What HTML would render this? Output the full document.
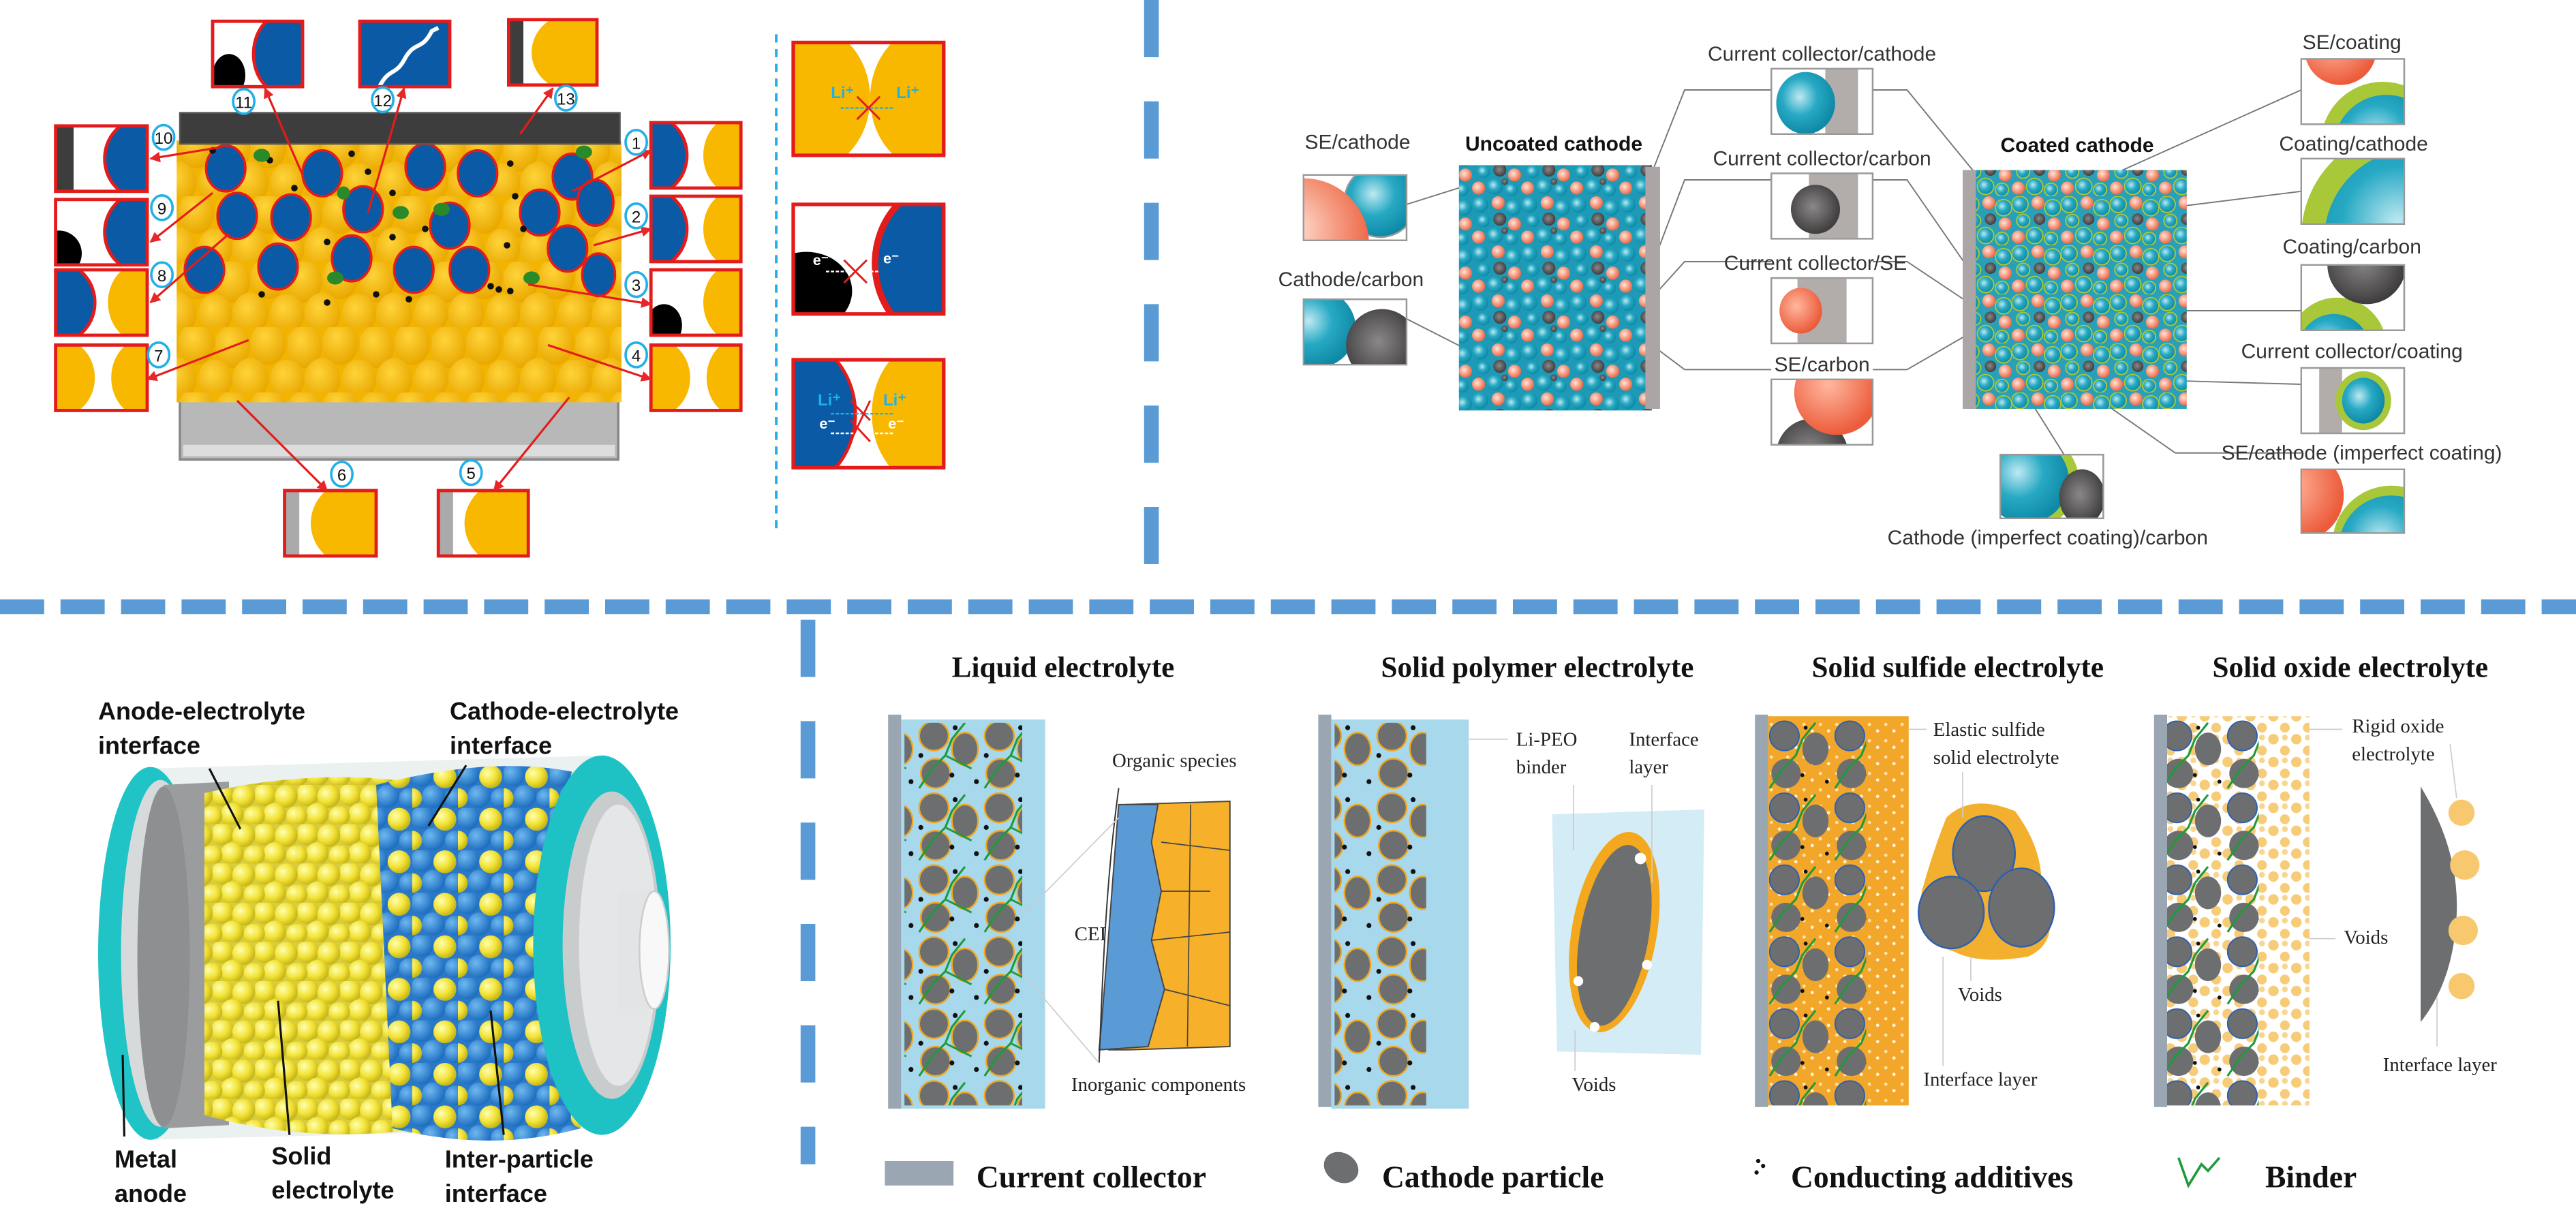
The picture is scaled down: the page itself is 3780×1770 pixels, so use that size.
<!DOCTYPE html>
<html><head><meta charset="utf-8"><style>
html,body{margin:0;padding:0;background:#fff;}
svg{display:block;}
</style></head><body>
<svg width="3780" height="1770" viewBox="0 0 1575 737.5" xmlns="http://www.w3.org/2000/svg">
<defs>
<radialGradient id="gTeal" cx="0.4" cy="0.4" r="0.6"><stop offset="0" stop-color="#bfe9f2"/><stop offset="0.5" stop-color="#27a9c4"/><stop offset="1" stop-color="#0f8aa6"/></radialGradient>
<radialGradient id="gSal" cx="0.4" cy="0.4" r="0.6"><stop offset="0" stop-color="#ffe6dc"/><stop offset="0.6" stop-color="#f59a80"/><stop offset="1" stop-color="#ee6a4a"/></radialGradient>
<radialGradient id="gRed" cx="0.4" cy="0.4" r="0.6"><stop offset="0" stop-color="#ffb8a0"/><stop offset="1" stop-color="#ec5b3a"/></radialGradient>
<radialGradient id="gDark" cx="0.45" cy="0.45" r="0.6"><stop offset="0" stop-color="#8a8888"/><stop offset="1" stop-color="#383636"/></radialGradient>
<radialGradient id="gYel" cx="0.35" cy="0.35" r="0.65"><stop offset="0" stop-color="#ffffb0"/><stop offset="0.6" stop-color="#f2e236"/><stop offset="1" stop-color="#c8b818"/></radialGradient>
<radialGradient id="gBlu" cx="0.35" cy="0.35" r="0.65"><stop offset="0" stop-color="#6fb8f0"/><stop offset="1" stop-color="#1f6fc0"/></radialGradient>
<radialGradient id="gOr" cx="0.4" cy="0.35" r="0.65"><stop offset="0" stop-color="#ffd43a"/><stop offset="1" stop-color="#e9a800"/></radialGradient>
<pattern id="pUn" width="30" height="30" patternUnits="userSpaceOnUse">
<rect width="30" height="30" fill="#1e9ab6"/>
<circle cx="5" cy="5" r="5" fill="url(#gTeal)"/><circle cx="16" cy="4" r="4" fill="url(#gSal)"/><circle cx="25" cy="7" r="5" fill="url(#gTeal)"/>
<circle cx="7" cy="15" r="4" fill="url(#gTeal)"/><circle cx="17" cy="14" r="4" fill="url(#gDark)"/><circle cx="26" cy="17" r="4" fill="url(#gSal)"/>
<circle cx="4" cy="25" r="4" fill="url(#gSal)"/><circle cx="14" cy="24" r="5" fill="url(#gTeal)"/><circle cx="24" cy="26" r="4" fill="url(#gTeal)"/><circle cx="20" cy="21" r="2" fill="url(#gDark)"/>
</pattern>
<pattern id="pCo" width="30" height="30" patternUnits="userSpaceOnUse">
<rect width="30" height="30" fill="#2aa0b8"/>
<g stroke="#a8c83a" stroke-width="0.8">
<circle cx="5" cy="5" r="5" fill="url(#gTeal)"/><circle cx="16" cy="4" r="4" fill="url(#gSal)" stroke="none"/><circle cx="25" cy="7" r="5" fill="url(#gTeal)"/>
<circle cx="7" cy="15" r="4" fill="url(#gTeal)"/><circle cx="17" cy="14" r="3.5" fill="url(#gDark)" stroke="none"/><circle cx="26" cy="17" r="4" fill="url(#gSal)" stroke="none"/>
<circle cx="4" cy="25" r="4" fill="url(#gSal)" stroke="none"/><circle cx="14" cy="24" r="5" fill="url(#gTeal)"/><circle cx="24" cy="26" r="4" fill="url(#gTeal)"/></g>
</pattern>
<pattern id="pYP" width="26" height="24" patternUnits="userSpaceOnUse">
<rect width="26" height="24" fill="#d8cc40"/>
<circle cx="6" cy="6" r="7" fill="url(#gYel)"/><circle cx="19" cy="7" r="7" fill="url(#gYel)"/><circle cx="12" cy="18" r="7" fill="url(#gYel)"/><circle cx="25" cy="19" r="6" fill="url(#gYel)"/><circle cx="0" cy="19" r="6" fill="url(#gYel)"/>
</pattern>
<pattern id="pBP" width="28" height="26" patternUnits="userSpaceOnUse">
<rect width="28" height="26" fill="#2a78c8"/>
<circle cx="6" cy="6" r="7" fill="url(#gBlu)"/><circle cx="20" cy="7" r="7" fill="url(#gYel)"/><circle cx="13" cy="19" r="7" fill="url(#gBlu)"/><circle cx="26" cy="20" r="6" fill="url(#gBlu)"/><circle cx="0" cy="20" r="6" fill="url(#gYel)"/>
</pattern>
<pattern id="pOrP" width="44" height="40" patternUnits="userSpaceOnUse">
<rect width="44" height="40" fill="#f3b400"/>
<ellipse cx="10" cy="12" rx="11" ry="13" fill="url(#gOr)"/><ellipse cx="32" cy="10" rx="11" ry="13" fill="url(#gOr)"/><ellipse cx="21" cy="32" rx="11" ry="13" fill="url(#gOr)"/><ellipse cx="43" cy="32" rx="10" ry="12" fill="url(#gOr)"/><ellipse cx="0" cy="32" rx="10" ry="12" fill="url(#gOr)"/>
</pattern>
<pattern id="pGP" width="40" height="44" patternUnits="userSpaceOnUse">
<ellipse cx="11" cy="10" rx="9" ry="9" fill="#6d6e70" stroke="#f0a820" stroke-width="1"/>
<ellipse cx="30" cy="18" rx="8" ry="10" fill="#6d6e70" stroke="#f0a820" stroke-width="1"/>
<ellipse cx="12" cy="33" rx="9" ry="9" fill="#6d6e70" stroke="#f0a820" stroke-width="1"/>
<circle cx="24" cy="5" r="1.5" fill="#111"/><circle cx="22" cy="34" r="1.5" fill="#111"/><circle cx="37" cy="38" r="1.5" fill="#111"/><circle cx="3" cy="22" r="1.5" fill="#111"/>
<path d="M2 42 L10 30 L18 22 L22 12 L30 2" stroke="#1f9a3a" stroke-width="1.3" fill="none"/>
<path d="M18 22 L34 30" stroke="#1f9a3a" stroke-width="1.2" fill="none"/>
</pattern>
<pattern id="pGPnb" width="40" height="44" patternUnits="userSpaceOnUse">
<ellipse cx="11" cy="10" rx="9" ry="9" fill="#6d6e70" stroke="#f0a820" stroke-width="1"/>
<ellipse cx="30" cy="18" rx="8" ry="10" fill="#6d6e70" stroke="#f0a820" stroke-width="1"/>
<ellipse cx="12" cy="33" rx="9" ry="9" fill="#6d6e70" stroke="#f0a820" stroke-width="1"/>
<circle cx="24" cy="5" r="1.5" fill="#111"/><circle cx="22" cy="34" r="1.5" fill="#111"/><circle cx="37" cy="38" r="1.5" fill="#111"/><circle cx="3" cy="22" r="1.5" fill="#111"/>
</pattern>
<pattern id="pGS" width="40" height="44" patternUnits="userSpaceOnUse">
<ellipse cx="11" cy="10" rx="9" ry="9" fill="#6d6e70" stroke="#2d5fb0" stroke-width="0.8"/>
<ellipse cx="30" cy="18" rx="8" ry="10" fill="#6d6e70"/>
<ellipse cx="12" cy="33" rx="9" ry="9" fill="#6d6e70"/>
<circle cx="24" cy="5" r="1.2" fill="#111"/><circle cx="22" cy="34" r="1.2" fill="#111"/><circle cx="37" cy="38" r="1.2" fill="#111"/>
<path d="M2 42 L10 30 L18 22 L22 12 L30 2" stroke="#1f9a3a" stroke-width="1.3" fill="none"/>
</pattern>
<pattern id="pSul" width="10" height="10" patternUnits="userSpaceOnUse">
<rect width="10" height="10" fill="#f2a72a"/><circle cx="3" cy="3" r="1" fill="#ffe2a8"/><circle cx="8" cy="7" r="1" fill="#fff2d8"/>
</pattern>
<pattern id="pOx" width="14" height="14" patternUnits="userSpaceOnUse">
<circle cx="4" cy="4" r="3.2" fill="#f7cc78"/><circle cx="11" cy="11" r="3" fill="#f7cc78"/><circle cx="11" cy="3" r="1.8" fill="#f9d690"/>
</pattern>
<marker id="ar" viewBox="0 0 10 10" refX="9" refY="5" markerWidth="5" markerHeight="5" orient="auto"><path d="M0 0 L10 5 L0 10z" fill="#e8262a"/></marker>
</defs>

<!-- dashed dividers -->
<line x1="704" y1="0" x2="704" y2="345" stroke="#5b9bd5" stroke-width="9" stroke-dasharray="35 27"/>
<line x1="0" y1="371" x2="1575" y2="371" stroke="#5b9bd5" stroke-width="9" stroke-dasharray="27 10"/>
<line x1="494" y1="379" x2="494" y2="712" stroke="#5b9bd5" stroke-width="9" stroke-dasharray="35 27"/>
<line x1="474.6" y1="21" x2="474.6" y2="325" stroke="#1fb0e8" stroke-width="1.6" stroke-dasharray="5 4"/>

<!-- ===== Top-left ===== -->
<rect x="110" y="240" width="268" height="41" fill="#b8b8b8" stroke="#888" stroke-width="1.5"/>
<rect x="112" y="272" width="264" height="7" fill="#ddd"/>
<rect x="108" y="86" width="272" height="160" fill="url(#pOrP)"/>
<g fill="#0a5aa6" stroke="#e31b1b" stroke-width="1.5">
<ellipse cx="138" cy="103" rx="12" ry="14"/><ellipse cx="197" cy="106" rx="12" ry="14"/><ellipse cx="260" cy="102" rx="12" ry="14"/><ellipse cx="292" cy="106" rx="12" ry="14"/><ellipse cx="350" cy="108" rx="12" ry="14"/>
<ellipse cx="145" cy="132" rx="12" ry="14"/><ellipse cx="178" cy="133" rx="12" ry="14"/><ellipse cx="222" cy="128" rx="12" ry="14"/><ellipse cx="275" cy="138" rx="12" ry="14"/><ellipse cx="330" cy="130" rx="12" ry="14"/><ellipse cx="364" cy="124" rx="11" ry="14"/>
<ellipse cx="125" cy="165" rx="12" ry="14"/><ellipse cx="170" cy="163" rx="12" ry="14"/><ellipse cx="215" cy="158" rx="12" ry="14"/><ellipse cx="253" cy="165" rx="12" ry="14"/><ellipse cx="287" cy="165" rx="12" ry="14"/><ellipse cx="347" cy="152" rx="12" ry="14"/><ellipse cx="366" cy="168" rx="10" ry="13"/>
</g>
<rect x="110" y="69" width="269" height="19" fill="#3d3d3d" stroke="#555"/>
<g fill="#111">
<circle cx="130" cy="92" r="2"/><circle cx="165" cy="98" r="2"/><circle cx="180" cy="115" r="2"/><circle cx="215" cy="94" r="2"/><circle cx="225" cy="105" r="2"/><circle cx="240" cy="118" r="2"/><circle cx="312" cy="100" r="2"/><circle cx="315" cy="120" r="2"/><circle cx="200" cy="148" r="2"/><circle cx="240" cy="145" r="2"/><circle cx="260" cy="140" r="2"/><circle cx="310" cy="150" r="2"/><circle cx="320" cy="140" r="2"/><circle cx="160" cy="180" r="2"/><circle cx="230" cy="180" r="2"/><circle cx="250" cy="183" r="2"/><circle cx="300" cy="175" r="2"/><circle cx="305" cy="177" r="2"/><circle cx="312" cy="178" r="2"/><circle cx="200" cy="185" r="2"/>
</g>
<g fill="#2a8a2a"><ellipse cx="160" cy="95" rx="5" ry="4"/><ellipse cx="245" cy="130" rx="5" ry="4"/><ellipse cx="270" cy="128" rx="5" ry="4"/><ellipse cx="205" cy="170" rx="5" ry="4"/><ellipse cx="357" cy="93" rx="5" ry="4"/><ellipse cx="325" cy="170" rx="5" ry="4"/><ellipse cx="210" cy="118" rx="4" ry="4"/></g>

<!-- zoom boxes (clipped) -->
<svg x="130" y="13" width="55" height="40"><rect width="55" height="40" fill="#fff"/><ellipse cx="43" cy="20" rx="18" ry="24" fill="#0a5aa6" stroke="#e31b1b" stroke-width="2"/><ellipse cx="10" cy="33" rx="10" ry="13" fill="#000"/></svg>
<svg x="220" y="13" width="55" height="40"><rect width="55" height="40" fill="#0a5aa6"/><path d="M12 40 C18 28 22 34 28 22 C34 12 38 18 44 6 L48 4" stroke="#fff" stroke-width="2.5" fill="none"/></svg>
<svg x="311" y="12" width="54" height="40"><rect width="54" height="40" fill="#fff"/><rect x="0" y="0" width="9" height="40" fill="#3d3d3d"/><ellipse cx="40" cy="20" rx="26" ry="24" fill="#f9b800"/></svg>

<svg x="34" y="77" width="56" height="40"><rect width="56" height="40" fill="#fff"/><rect width="11" height="40" fill="#3d3d3d"/><ellipse cx="52" cy="20" rx="22" ry="24" fill="#0a5aa6" stroke="#e31b1b" stroke-width="2"/></svg>
<svg x="34" y="122" width="56" height="40"><rect width="56" height="40" fill="#fff"/><ellipse cx="2" cy="33" rx="14" ry="14" fill="#000"/><ellipse cx="52" cy="20" rx="22" ry="24" fill="#0a5aa6" stroke="#e31b1b" stroke-width="2"/></svg>
<svg x="34" y="165" width="56" height="40"><rect width="56" height="40" fill="#fff"/><ellipse cx="2" cy="20" rx="22" ry="24" fill="#0a5aa6" stroke="#e31b1b" stroke-width="2"/><ellipse cx="52" cy="20" rx="20" ry="24" fill="#f9b800"/></svg>
<svg x="34" y="211" width="56" height="40"><rect width="56" height="40" fill="#fff"/><ellipse cx="2" cy="20" rx="22" ry="24" fill="#f9b800"/><ellipse cx="54" cy="20" rx="20" ry="24" fill="#f9b800"/></svg>

<svg x="398" y="75" width="55" height="40"><rect width="55" height="40" fill="#fff"/><ellipse cx="0" cy="20" rx="22" ry="24" fill="#0a5aa6" stroke="#e31b1b" stroke-width="2"/><ellipse cx="52" cy="20" rx="20" ry="24" fill="#f9b800"/></svg>
<svg x="398" y="120" width="55" height="40"><rect width="55" height="40" fill="#fff"/><ellipse cx="0" cy="20" rx="22" ry="24" fill="#0a5aa6" stroke="#e31b1b" stroke-width="2"/><ellipse cx="52" cy="20" rx="20" ry="24" fill="#f9b800"/></svg>
<svg x="398" y="165" width="55" height="40"><rect width="55" height="40" fill="#fff"/><ellipse cx="8" cy="34" rx="11" ry="13" fill="#000"/><ellipse cx="52" cy="20" rx="20" ry="24" fill="#f9b800"/></svg>
<svg x="398" y="211" width="55" height="40"><rect width="55" height="40" fill="#fff"/><ellipse cx="2" cy="20" rx="22" ry="24" fill="#f9b800"/><ellipse cx="54" cy="20" rx="20" ry="24" fill="#f9b800"/></svg>

<svg x="174" y="300" width="56" height="40"><rect width="56" height="40" fill="#fff"/><rect width="9" height="40" fill="#aaa"/><ellipse cx="42" cy="20" rx="26" ry="26" fill="#f9b800"/></svg>
<svg x="268" y="300" width="55" height="40"><rect width="55" height="40" fill="#fff"/><rect width="9" height="40" fill="#aaa"/><ellipse cx="42" cy="20" rx="26" ry="26" fill="#f9b800"/></svg>

<g fill="none" stroke="#e31b1b" stroke-width="2">
<rect x="130" y="13" width="55" height="40"/><rect x="220" y="13" width="55" height="40"/><rect x="311" y="12" width="54" height="40"/>
<rect x="34" y="77" width="56" height="40"/><rect x="34" y="122" width="56" height="40"/><rect x="34" y="165" width="56" height="40"/><rect x="34" y="211" width="56" height="40"/>
<rect x="398" y="75" width="55" height="40"/><rect x="398" y="120" width="55" height="40"/><rect x="398" y="165" width="55" height="40"/><rect x="398" y="211" width="55" height="40"/>
<rect x="174" y="300" width="56" height="40"/><rect x="268" y="300" width="55" height="40"/>
</g>
<!-- red leader lines -->
<g stroke="#e31b1b" stroke-width="1.3" marker-end="url(#ar)">
<line x1="185" y1="107" x2="162" y2="54"/><line x1="225" y1="130" x2="247" y2="54"/><line x1="318" y1="82" x2="338" y2="54"/>
<line x1="135" y1="90" x2="92" y2="97"/><line x1="130" y1="118" x2="92" y2="148"/><line x1="140" y1="143" x2="92" y2="185"/><line x1="152" y1="208" x2="90" y2="232"/>
<line x1="350" y1="117" x2="398" y2="92"/><line x1="363" y1="150" x2="398" y2="140"/><line x1="323" y1="174" x2="398" y2="186"/><line x1="335" y1="211" x2="398" y2="232"/>
<line x1="145" y1="245" x2="200" y2="300"/><line x1="348" y1="243" x2="302" y2="300"/>
</g>
<!-- numbers -->
<g font-family="Liberation Sans, sans-serif" font-size="10" text-anchor="middle" fill="#111">
<g fill="#fff" stroke="#22b0e8" stroke-width="1.5">
<ellipse cx="149" cy="62" rx="6.5" ry="7.5"/><ellipse cx="234" cy="61" rx="6.5" ry="7.5"/><ellipse cx="346" cy="60" rx="6.5" ry="7.5"/>
<ellipse cx="100" cy="84" rx="6.5" ry="7.5"/><ellipse cx="99" cy="127" rx="6.5" ry="7.5"/><ellipse cx="99" cy="168" rx="6.5" ry="7.5"/><ellipse cx="97" cy="217" rx="6.5" ry="7.5"/>
<ellipse cx="389" cy="87" rx="6.5" ry="7.5"/><ellipse cx="389" cy="132" rx="6.5" ry="7.5"/><ellipse cx="389" cy="174" rx="6.5" ry="7.5"/><ellipse cx="389" cy="217" rx="6.5" ry="7.5"/>
<ellipse cx="209" cy="290" rx="6.5" ry="7.5"/><ellipse cx="288" cy="289" rx="6.5" ry="7.5"/></g>
<text x="149" y="66">11</text><text x="234" y="65">12</text><text x="346" y="64">13</text>
<text x="100" y="88">10</text><text x="99" y="131">9</text><text x="99" y="172">8</text><text x="97" y="221">7</text>
<text x="389" y="91">1</text><text x="389" y="136">2</text><text x="389" y="178">3</text><text x="389" y="221">4</text>
<text x="209" y="294">6</text><text x="288" y="293">5</text>
</g>
<!-- right column boxes -->
<svg x="485" y="26" width="92" height="69"><rect width="92" height="69" fill="#fff"/><ellipse cx="10" cy="34" rx="37" ry="44" fill="#f9b800"/><ellipse cx="84" cy="34" rx="37" ry="44" fill="#f9b800"/></svg>
<svg x="485" y="125" width="92" height="67"><rect width="92" height="67" fill="#fff"/><ellipse cx="8" cy="53" rx="28" ry="24" fill="#000"/><ellipse cx="96" cy="36" rx="46" ry="50" fill="#0a5aa6" stroke="#e31b1b" stroke-width="4"/></svg>
<svg x="485" y="220" width="92" height="66"><rect width="92" height="66" fill="#fff"/><ellipse cx="-6" cy="33" rx="44" ry="48" fill="#0a5aa6" stroke="#e31b1b" stroke-width="2"/><ellipse cx="86" cy="33" rx="38" ry="46" fill="#f9b800"/></svg>
<g fill="none" stroke="#e31b1b" stroke-width="2.2"><rect x="485" y="26" width="92" height="69"/><rect x="485" y="125" width="92" height="67"/><rect x="485" y="220" width="92" height="66"/></g>
<g font-family="Liberation Sans, sans-serif" font-weight="bold" font-size="10" fill="#1fb0e8">
<text x="508" y="60">Li⁺</text><text x="548" y="60">Li⁺</text>
<text x="500" y="248">Li⁺</text><text x="540" y="248">Li⁺</text>
</g>
<g font-family="Liberation Sans, sans-serif" font-weight="bold" font-size="9" fill="#fff">
<text x="497" y="162">e⁻</text><text x="540" y="161">e⁻</text><text x="501" y="262">e⁻</text><text x="543" y="262">e⁻</text></g>
<g stroke="#1fb0e8" stroke-width="1" stroke-dasharray="2 1"><line x1="514" y1="66" x2="547" y2="66"/><line x1="508" y1="253" x2="546" y2="253"/></g>
<g stroke="#fff" stroke-width="1" stroke-dasharray="2 1"><line x1="505" y1="166" x2="538" y2="166"/><line x1="508" y1="265" x2="546" y2="265"/></g>
<g stroke="#e31b1b" stroke-width="1.2"><path d="M524 59 L538 73 M538 59 L524 73"/><path d="M516 159 L530 173 M530 159 L516 173"/><path d="M520 245 L532 257 M532 245 L520 270 M520 257 L532 270"/></g>

<!-- ===== Top-right ===== -->
<g fill="none" stroke="#777" stroke-width="0.8">
<polyline points="1011,103 1030,55 1083,55"/><polyline points="1145,55 1166,55 1211,110"/>
<polyline points="1011,160 1030,110 1083,110"/><polyline points="1145,110 1166,110 1211,175"/>
<polyline points="1011,181 1030,160 1083,160"/><polyline points="1145,160 1166,160 1211,190"/>
<polyline points="1002,205 1030,226 1083,226"/><polyline points="1145,226 1166,226 1211,200"/>
<line x1="860" y1="125" x2="933" y2="102"/><line x1="860" y1="195" x2="925" y2="228"/>
<line x1="1407" y1="55" x2="1280" y2="112"/><line x1="1407" y1="117" x2="1262" y2="135"/><line x1="1407" y1="190" x2="1298" y2="190"/>
<line x1="1407" y1="235" x2="1300" y2="232"/><polyline points="1407,277 1330,277 1267,233"/><line x1="1262" y1="278" x2="1235" y2="235"/>
</g>
<rect x="892" y="101" width="118" height="150" fill="url(#pUn)"/><rect x="1006" y="102" width="9" height="148" fill="#aba6a5"/>
<rect x="1206" y="104" width="131" height="146" fill="url(#pCo)"/><rect x="1200" y="104" width="8" height="146" fill="#aba6a5"/>
<g font-family="Liberation Sans, sans-serif" font-size="12.5" fill="#333">
<text x="830" y="91" text-anchor="middle">SE/cathode</text>
<text x="826" y="175" text-anchor="middle">Cathode/carbon</text>
<text x="1114" y="37" text-anchor="middle">Current collector/cathode</text>
<text x="1114" y="101" text-anchor="middle">Current collector/carbon</text>
<text x="1110" y="165" text-anchor="middle">Current collector/SE</text>
<text x="1114" y="227" text-anchor="middle">SE/carbon</text>
<text x="1438" y="30" text-anchor="middle">SE/coating</text>
<text x="1439" y="92" text-anchor="middle">Coating/cathode</text>
<text x="1438" y="155" text-anchor="middle">Coating/carbon</text>
<text x="1438" y="219" text-anchor="middle">Current collector/coating</text>
<text x="1444" y="281" text-anchor="middle">SE/cathode (imperfect coating)</text>
<text x="1252" y="333" text-anchor="middle">Cathode (imperfect coating)/carbon</text>
<text x="950" y="92" text-anchor="middle" font-weight="bold" fill="#111">Uncoated cathode</text>
<text x="1270" y="93" text-anchor="middle" font-weight="bold" fill="#111">Coated cathode</text>
</g>
<g stroke="#999" stroke-width="1">
<svg x="797" y="107" width="63" height="40" viewBox="0 0 63 40"><rect width="63" height="40" fill="#fff"/><circle cx="47" cy="16" r="22" fill="url(#gTeal)"/><circle cx="0" cy="42" r="40" fill="url(#gSal)" stroke="none"/></svg>
<svg x="797" y="183" width="63" height="40" viewBox="0 0 63 40"><rect width="63" height="40" fill="#fff"/><circle cx="8" cy="18" r="24" fill="url(#gTeal)" stroke="none"/><circle cx="48" cy="28" r="22" fill="url(#gDark)" stroke="none"/></svg>
<svg x="1083" y="42" width="62" height="40" viewBox="0 0 62 40"><rect width="62" height="40" fill="#fff"/><rect x="33" y="0" width="20" height="40" fill="#b2acab" stroke="none"/><ellipse cx="21" cy="21" rx="18" ry="19" fill="url(#gTeal)" stroke="none"/></svg>
<svg x="1083" y="106" width="62" height="40" viewBox="0 0 62 40"><rect width="62" height="40" fill="#fff"/><rect x="23" y="0" width="30" height="40" fill="#b2acab" stroke="none"/><circle cx="27" cy="22" r="15" fill="url(#gDark)" stroke="none"/></svg>
<svg x="1083" y="170" width="62" height="40" viewBox="0 0 62 40"><rect width="62" height="40" fill="#fff"/><rect x="16" y="0" width="30" height="40" fill="#b2acab" stroke="none"/><ellipse cx="18" cy="20" rx="13" ry="14" fill="url(#gRed)" stroke="none"/></svg>
<svg x="1083" y="232" width="62" height="40" viewBox="0 0 62 40"><rect width="62" height="40" fill="#fff"/><circle cx="25" cy="46" r="22" fill="url(#gDark)" stroke="none"/><circle cx="40" cy="8" r="26" fill="url(#gRed)" stroke="none"/></svg>
<svg x="1407" y="36" width="63" height="40" viewBox="0 0 63 40"><rect width="63" height="40" fill="#fff"/><circle cx="24" cy="-6" r="22" fill="url(#gRed)" stroke="none"/><circle cx="50" cy="52" r="38" fill="#a8c83a" stroke="none"/><circle cx="52" cy="54" r="32" fill="url(#gTeal)" stroke="none"/></svg>
<svg x="1407" y="97" width="63" height="40" viewBox="0 0 63 40"><rect width="63" height="40" fill="#fff"/><circle cx="66" cy="48" r="66" fill="#a8c83a" stroke="none"/><circle cx="70" cy="50" r="56" fill="url(#gTeal)" stroke="none"/></svg>
<svg x="1407" y="162" width="63" height="40" viewBox="0 0 63 40"><rect width="63" height="40" fill="#fff"/><circle cx="22" cy="50" r="30" fill="#a8c83a" stroke="none"/><circle cx="20" cy="52" r="22" fill="url(#gTeal)" stroke="none"/><circle cx="40" cy="0" r="24" fill="url(#gDark)" stroke="none"/></svg>
<svg x="1407" y="225" width="63" height="40" viewBox="0 0 63 40"><rect width="63" height="40" fill="#fff"/><rect x="11" y="0" width="14" height="40" fill="#b2acab" stroke="none"/><ellipse cx="38" cy="20" rx="17" ry="18" fill="#a8c83a" stroke="none"/><ellipse cx="38" cy="20" rx="13" ry="14" fill="url(#gTeal)" stroke="none"/></svg>
<svg x="1407" y="287" width="63" height="39" viewBox="0 0 63 39"><rect width="63" height="39" fill="#fff"/><circle cx="-2" cy="16" r="28" fill="url(#gRed)" stroke="none"/><circle cx="55" cy="46" r="36" fill="#a8c83a" stroke="none"/><circle cx="55" cy="48" r="32" fill="url(#gTeal)" stroke="none"/></svg>
<svg x="1223" y="278" width="63" height="39" viewBox="0 0 63 39"><rect width="63" height="39" fill="#fff"/><circle cx="20" cy="16" r="28" fill="#a8c83a" stroke="none"/><circle cx="16" cy="16" r="26" fill="url(#gTeal)" stroke="none"/><ellipse cx="50" cy="26" rx="14" ry="17" fill="url(#gDark)" stroke="none"/></svg>
</g>
<g fill="none" stroke="#999" stroke-width="1">
<rect x="797" y="107" width="63" height="40"/><rect x="797" y="183" width="63" height="40"/>
<rect x="1083" y="42" width="62" height="40"/><rect x="1083" y="106" width="62" height="40"/><rect x="1083" y="170" width="62" height="40"/><rect x="1083" y="232" width="62" height="40"/>
<rect x="1407" y="36" width="63" height="40"/><rect x="1407" y="97" width="63" height="40"/><rect x="1407" y="162" width="63" height="40"/><rect x="1407" y="225" width="63" height="40"/><rect x="1407" y="287" width="63" height="39"/><rect x="1223" y="278" width="63" height="39"/>
</g>

<!-- ===== Bottom-left battery ===== -->
<path d="M90 470 L370 462 L370 690 L90 697 Z" fill="#e6ecee" opacity="0.8"/>
<ellipse cx="92" cy="583" rx="32" ry="114" fill="#20c4c6"/>
<ellipse cx="98" cy="583" rx="24" ry="106" fill="#d6dadb"/>
<path d="M100 480 L140 478 L140 688 L100 690 Z" fill="#9a9c9e"/>
<ellipse cx="100" cy="585" rx="16" ry="104" fill="#8d8f91"/>
<path d="M125 485 Q190 470 250 478 L260 690 Q190 700 125 682 Z" fill="url(#pYP)"/>
<path d="M230 480 Q300 462 350 472 L355 690 Q300 705 240 690 Z" fill="url(#pBP)"/>
<ellipse cx="368" cy="578" rx="42" ry="116" fill="#1fc2c4"/>
<ellipse cx="374" cy="578" rx="30" ry="94" fill="#c9cccd"/>
<ellipse cx="378" cy="578" rx="24" ry="86" fill="#e4e6e7"/>
<rect x="378" y="545" width="22" height="72" fill="#e2e4e5"/>
<ellipse cx="400" cy="581" rx="9" ry="36" fill="#f8f8f8" stroke="#ccc"/>
<g stroke="#111" stroke-width="1.3" fill="none">
<line x1="128" y1="470" x2="147" y2="507"/><line x1="285" y1="468" x2="262" y2="505"/>
<line x1="75" y1="645" x2="76" y2="695"/><line x1="170" y1="612" x2="177" y2="694"/><line x1="300" y1="618" x2="308" y2="694"/>
</g>
<g font-family="Liberation Sans, sans-serif" font-weight="bold" font-size="15" fill="#111">
<text x="60" y="440">Anode-electrolyte</text><text x="60" y="461">interface</text>
<text x="275" y="440">Cathode-electrolyte</text><text x="275" y="461">interface</text>
<text x="70" y="714">Metal</text><text x="70" y="735">anode</text>
<text x="166" y="712">Solid</text><text x="166" y="733">electrolyte</text>
<text x="272" y="714">Inter-particle</text><text x="272" y="735">interface</text>
</g>

<!-- ===== Bottom-right panels ===== -->
<g font-family="Liberation Serif, serif" font-weight="bold" font-size="18" fill="#111" text-anchor="middle">
<text x="650" y="414">Liquid electrolyte</text><text x="940" y="414">Solid polymer electrolyte</text>
<text x="1197" y="414">Solid sulfide electrolyte</text><text x="1437" y="414">Solid oxide electrolyte</text>
</g>
<!-- liquid -->
<rect x="543" y="437" width="8" height="241" fill="#9aa7b2"/>
<rect x="551" y="440" width="88" height="238" fill="#a8d8ec"/>
<rect x="553" y="442" width="72" height="234" fill="url(#pGP)"/>
<path d="M688 492 L752 490 L752 640 L690 642 L678 642 Z" fill="#f6b02a" stroke="#444" stroke-width="0.8"/>
<path d="M684 492 L708 492 L704 515 L710 545 L704 575 L712 605 L702 640 L672 642 C676 600 680 540 684 492Z" fill="#5b9bd5" stroke="#444" stroke-width="0.8"/>
<g stroke="#444" stroke-width="0.7" fill="none"><path d="M710 515 L752 520 M704 575 L752 570 M712 605 L752 615 M728 492 L726 640 M710 545 L740 545"/></g>
<path d="M684 482 C676 540 674 600 672 650" stroke="#333" stroke-width="0.8" fill="none"/>
<g stroke="#ccc" stroke-width="0.7"><line x1="625" y1="560" x2="684" y2="500"/><line x1="625" y1="595" x2="672" y2="650"/></g>
<g font-family="Liberation Serif, serif" font-size="12" fill="#222">
<text x="680" y="469">Organic species</text><text x="657" y="575">CEI</text><text x="655" y="667">Inorganic components</text>
<text x="927" y="456">Li-PEO</text><text x="927" y="473">binder</text><text x="996" y="456">Interface</text><text x="996" y="473">layer</text>
<text x="961" y="667">Voids</text>
<text x="1182" y="450">Elastic sulfide</text><text x="1182" y="467">solid electrolyte</text><text x="1197" y="612">Voids</text><text x="1176" y="664">Interface layer</text>
<text x="1438" y="448">Rigid oxide</text><text x="1438" y="465">electrolyte</text><text x="1433" y="577">Voids</text><text x="1457" y="655">Interface layer</text>
</g>
<!-- polymer -->
<rect x="806" y="437" width="8" height="240" fill="#9aa7b2"/>
<rect x="814" y="440" width="84" height="238" fill="#a8d8ec"/>
<rect x="816" y="442" width="56" height="234" fill="url(#pGPnb)"/>
<path d="M949 498 L1042 495 L1040 645 L952 643 Z" fill="#d3ecf6"/>
<ellipse cx="987" cy="570" rx="26" ry="62" transform="rotate(10 987 570)" fill="#f3a81e"/>
<ellipse cx="987" cy="572" rx="21" ry="56" transform="rotate(10 987 572)" fill="#6d6e70"/>
<g fill="#fff"><circle cx="1003" cy="525" r="3.5"/><circle cx="965" cy="600" r="3"/><circle cx="1007" cy="590" r="3"/><circle cx="975" cy="628" r="3"/></g>
<g stroke="#ccc" stroke-width="0.7"><line x1="898" y1="452" x2="922" y2="452"/><line x1="962" y1="480" x2="962" y2="520"/><line x1="1010" y1="480" x2="1010" y2="540"/><line x1="963" y1="630" x2="963" y2="655"/></g>
<!-- sulfide -->
<rect x="1073" y="437" width="8" height="240" fill="#9aa7b2"/>
<rect x="1081" y="438" width="86" height="238" fill="url(#pSul)"/>
<rect x="1081" y="440" width="60" height="236" fill="url(#pGS)"/>
<path d="M1190 500 Q1205 485 1232 496 Q1250 520 1248 545 Q1262 575 1240 585 Q1210 590 1195 582 Q1170 575 1175 545 Q1182 520 1190 500Z" fill="#f3b02e"/>
<ellipse cx="1213" cy="522" rx="19" ry="23" fill="#6d6e70" stroke="#2d5fb0" stroke-width="1"/>
<ellipse cx="1193" cy="558" rx="20" ry="22" fill="#6d6e70" stroke="#2d5fb0" stroke-width="1"/>
<ellipse cx="1236" cy="555" rx="20" ry="24" fill="#6d6e70" stroke="#2d5fb0" stroke-width="1"/>
<g stroke="#ccc" stroke-width="0.7"><line x1="1167" y1="446" x2="1178" y2="446"/><line x1="1200" y1="472" x2="1200" y2="500"/><line x1="1205" y1="585" x2="1205" y2="600"/><line x1="1188" y1="585" x2="1188" y2="652"/></g>
<!-- oxide -->
<rect x="1317" y="437" width="8" height="240" fill="#9aa7b2"/>
<rect x="1325" y="438" width="87" height="238" fill="url(#pOx)"/>
<rect x="1325" y="440" width="56" height="236" fill="url(#pGS)"/>
<path d="M1480 481 Q1504 520 1502 560 Q1500 600 1480 625 Z" fill="#6d6e70"/>
<g fill="#f7c86e"><circle cx="1505" cy="497" r="8"/><circle cx="1507" cy="529" r="9"/><circle cx="1506" cy="569" r="9"/><circle cx="1505" cy="603" r="8"/></g>
<g stroke="#ccc" stroke-width="0.7"><line x1="1412" y1="446" x2="1432" y2="446"/><line x1="1412" y1="574" x2="1428" y2="574"/><line x1="1490" y1="610" x2="1490" y2="640"/><line x1="1498" y1="455" x2="1502" y2="488"/></g>
<!-- legend -->
<rect x="541" y="710" width="42" height="15" fill="#9aa7b2"/>
<ellipse cx="820" cy="714" rx="11" ry="9" fill="#6d6e70" transform="rotate(30 820 714)"/>
<g fill="#111"><circle cx="1075" cy="710" r="1.3"/><circle cx="1078" cy="713" r="1.3"/><circle cx="1074" cy="717" r="1.3"/></g>
<path d="M1332 708 L1338 725 L1346 712 L1350 716 L1357 708" stroke="#1f9a3a" stroke-width="1.5" fill="none"/>
<g font-family="Liberation Serif, serif" font-weight="bold" font-size="19" fill="#111">
<text x="597" y="726">Current collector</text><text x="845" y="726">Cathode particle</text>
<text x="1095" y="726">Conducting additives</text><text x="1385" y="726">Binder</text>
</g>
</svg>
</body></html>
